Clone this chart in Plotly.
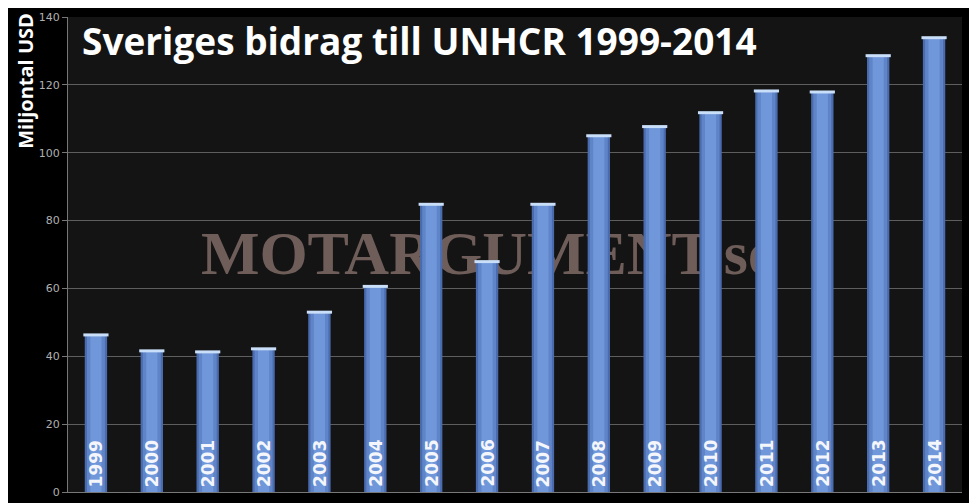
import plotly.graph_objects as go

years = ["1999", "2000", "2001", "2002", "2003", "2004", "2005", "2006",
         "2007", "2008", "2009", "2010", "2011", "2012", "2013", "2014"]
values = [46.3, 41.6, 41.3, 42.2, 53.0, 60.6, 84.8, 67.9,
          84.8, 105.0, 107.7, 111.8, 118.2, 117.9, 128.6, 133.9]
y_ticks = [0, 20, 40, 60, 80, 100, 120, 140]

title_text = "Sveriges bidrag till UNHCR 1999-2014"
y_title = "Miljontal USD"
watermark = "MOTARGUMENT.se"

fig = go.Figure()
# layered bars to imitate the cylindrical gradient of the original
for w, col in [(0.40, "#4a6cae"), (0.32, "#5f84c8"), (0.20, "#7097da")]:
    fig.add_trace(go.Bar(
        x=years, y=values, width=w,
        marker=dict(color=col, line=dict(width=0)),
        hoverinfo="x+y", showlegend=False,
    ))
# light highlight at the top of each bar
fig.add_trace(go.Scatter(
    x=years, y=values, mode="markers", hoverinfo="skip", showlegend=False,
    marker=dict(symbol="line-ew", size=18,
                line=dict(width=3, color="#c9def8")),
))

for i, yr in enumerate(years):
    fig.add_annotation(x=i, y=0, text=f"<b>{yr}</b>", textangle=-90,
                       xanchor="center", yanchor="bottom", yshift=3,
                       showarrow=False,
                       font=dict(family="DejaVu Sans", size=17, color="#f4f6fb"))

fig.add_annotation(xref="paper", yref="paper", x=0.0135, y=1.008,
                   xanchor="left", yanchor="top", showarrow=False,
                   text=f"<b>{title_text}</b>",
                   font=dict(family="Open Sans", size=37, color="white"))

fig.add_annotation(xref="paper", yref="paper", x=-0.0475, y=1.012,
                   xanchor="center", yanchor="top", showarrow=False,
                   textangle=-90, text=f"<b>{y_title}</b>",
                   font=dict(family="Open Sans", size=20, color="white"))

fig.add_shape(type="rect", xref="paper", yref="paper", x0=0.17, x1=0.77,
              y0=0.468, y1=0.568, layer="below",
              line=dict(width=0), fillcolor="rgba(0,0,0,0)",
              label=dict(text=watermark, textposition="middle center",
                         font=dict(family="Liberation Serif", size=62,
                                   weight="bold", color="#6e5d58")))

fig.update_layout(
    width=969, height=495,
    paper_bgcolor="#000000", plot_bgcolor="#141414",
    margin=dict(l=60, r=15, t=3, b=11),
    barmode="overlay",
    xaxis=dict(type="category", range=[-0.5, len(years) - 0.5],
               showticklabels=False, showgrid=False,
               showline=True, linecolor="#777777", linewidth=1, ticks=""),
    yaxis=dict(range=[0, 140], tickvals=y_ticks, showgrid=True,
               gridcolor="#5e5e5e", gridwidth=1, zeroline=False,
               showline=True, linecolor="#777777", linewidth=1,
               ticks="outside", ticklen=5, tickcolor="#777777",
               ticklabeloverflow="allow",
               tickfont=dict(family="DejaVu Sans", size=11, color="#b0b0b0")),
)

fig.write_html("out.html")
